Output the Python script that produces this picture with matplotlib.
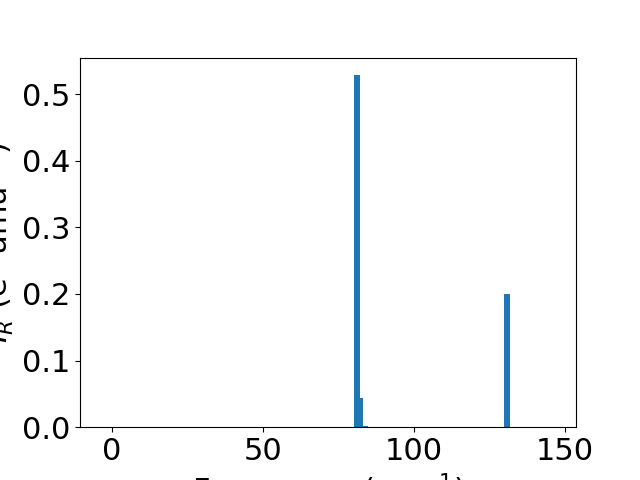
import numpy as np
import matplotlib
matplotlib.use("Agg")
import matplotlib.pyplot as plt

plt.rcParams['font.size'] = 22

# frequencies (cm^-1) and IR intensities
freqs = [81.2, 82.1, 83.8, 130.7]
intensities = [0.5285, 0.0435, 0.002, 0.1997]

fig, ax = plt.subplots(1, 1, figsize=(6.4, 4.8), dpi=100)

ax.bar(freqs, intensities, width=2.0, color='tab:blue')
ax.set_xlim(-10.6, 153.6)
ax.set_xticks([0, 50, 100, 150])
ax.set_xlabel(r'Frequency (cm$^{-1}$)')
ax.set_ylabel(r'$I_R$ (e$^2$ amu$^{-1}$)')

fig.savefig('out.png', dpi=100)
